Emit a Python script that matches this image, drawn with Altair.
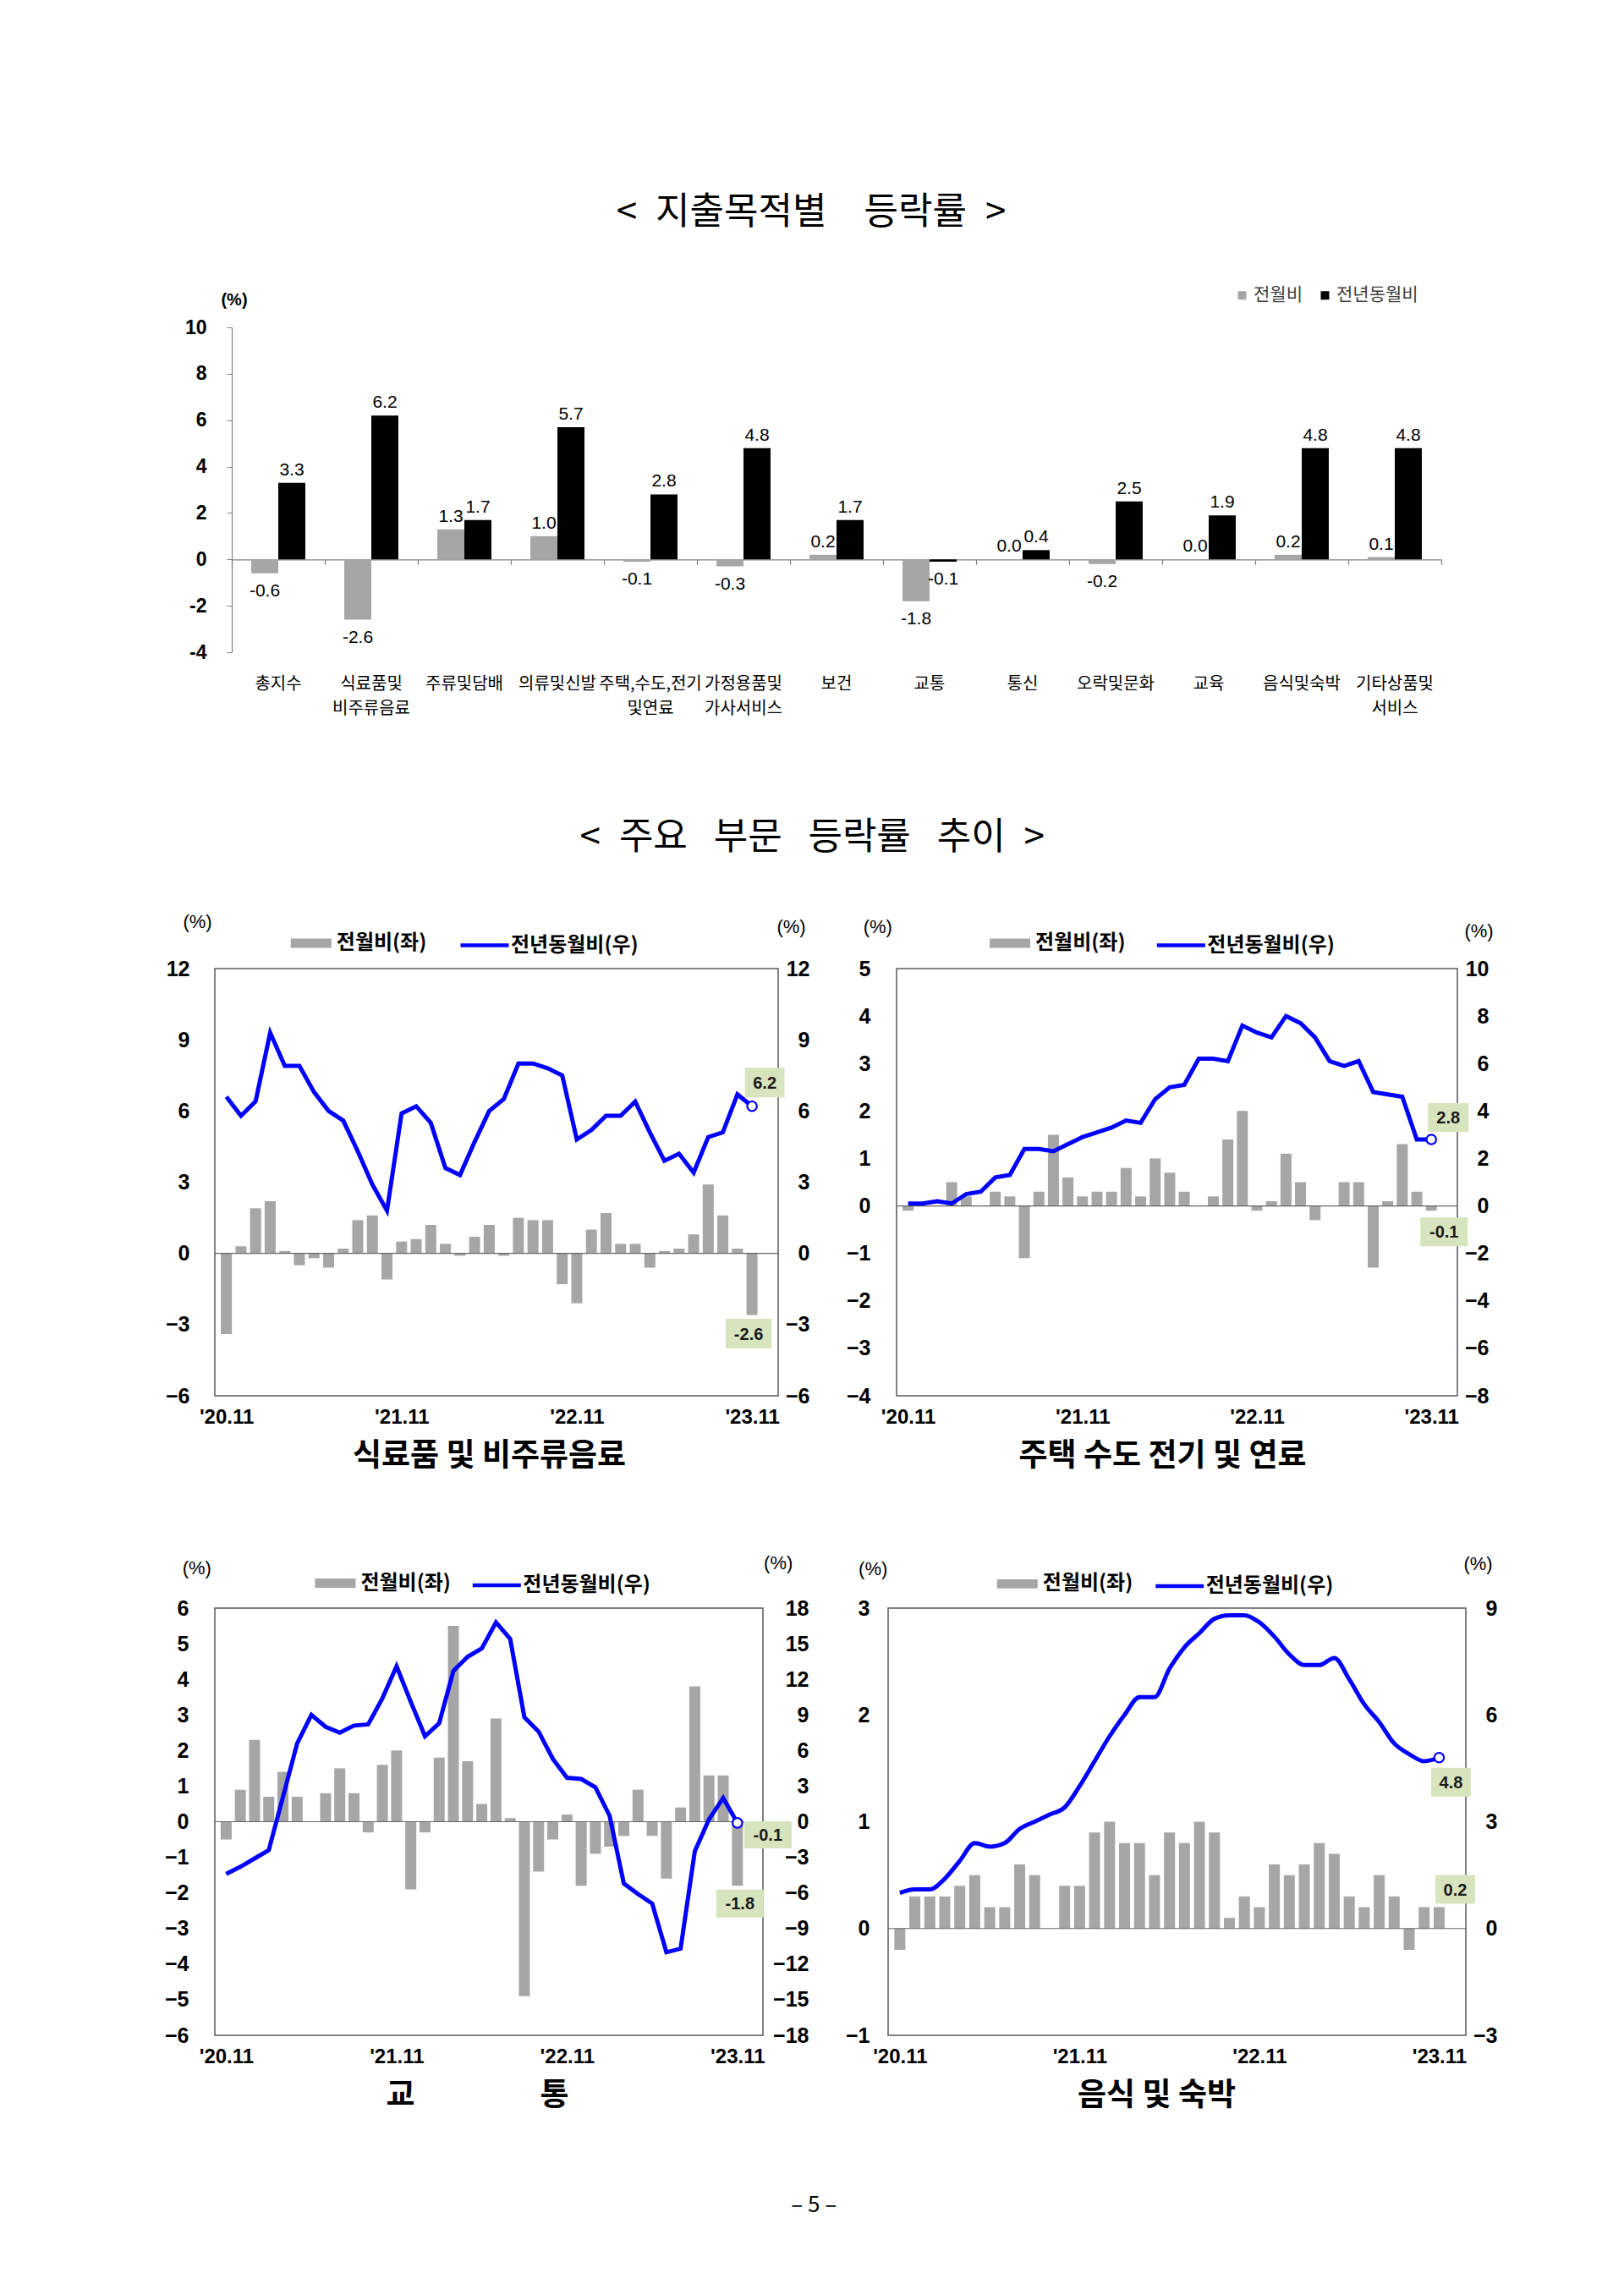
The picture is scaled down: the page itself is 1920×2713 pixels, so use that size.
import json
import altair as alt
import pandas as pd

# ---------------------------------------------------------------- data
CATEGORIES = ["총지수", "식료품및|비주류음료", "주류및담배", "의류및신발", "주택,수도,전기|및연료",
              "가정용품및|가사서비스", "보건", "교통", "통신", "오락및문화", "교육",
              "음식및숙박", "기타상품및|서비스"]
SERIES = ["전월비", "전년동월비"]
TOP_MOM = [-0.6, -2.6, 1.3, 1.0, -0.1, -0.3, 0.2, -1.8, 0.0, -0.2, 0.0, 0.2, 0.1]
TOP_YOY = [3.3, 6.2, 1.7, 5.7, 2.8, 4.8, 1.7, -0.1, 0.4, 2.5, 1.9, 4.8, 4.8]

MONTHS = []
_y, _m = 2020, 11
for _ in range(37):
    MONTHS.append(f"{_y % 100:02d}.{_m:02d}")
    _m += 1
    if _m > 12:
        _y, _m = _y + 1, 1
TICK_IDX = [0, 12, 24, 36]
TICK_LABELS = ["'20.11", "'21.11", "'22.11", "'23.11"]
LEGEND_BAR = "전월비(좌)"
LEGEND_LINE = "전년동월비(우)"

FOOD_MOM = [-3.4, 0.3, 1.9, 2.2, 0.1, -0.5, -0.2, -0.6, 0.2, 1.4, 1.6, -1.1, 0.5, 0.6, 1.2, 0.4,
            -0.1, 0.7, 1.2, -0.1, 1.5, 1.4, 1.4, -1.3, -2.1, 1.0, 1.7, 0.4, 0.4, -0.6, 0.1, 0.2,
            0.8, 2.9, 1.6, 0.2, -2.6]
FOOD_YOY = [6.6, 5.8, 6.4, 9.3, 7.9, 7.9, 6.8, 6.0, 5.6, 4.3, 2.9, 1.8, 5.9, 6.2, 5.5, 3.6,
            3.3, 4.7, 6.0, 6.5, 8.0, 8.0, 7.8, 7.5, 4.8, 5.2, 5.8, 5.8, 6.4, 5.1, 3.9, 4.2,
            3.4, 4.9, 5.1, 6.7, 6.2]
HOUSING_MOM = [-0.1, 0.0, 0.0, 0.5, 0.2, 0.0, 0.3, 0.2, -1.1, 0.3, 1.5, 0.6, 0.2, 0.3, 0.3, 0.8,
               0.2, 1.0, 0.7, 0.3, 0.0, 0.2, 1.4, 2.0, -0.1, 0.1, 1.1, 0.5, -0.3, 0.0, 0.5, 0.5,
               -1.3, 0.1, 1.3, 0.3, -0.1]
HOUSING_YOY = [0.1, 0.1, 0.2, 0.1, 0.5, 0.6, 1.2, 1.3, 2.4, 2.4, 2.3, 2.6, 2.9, 3.1, 3.3, 3.6,
               3.5, 4.5, 5.0, 5.1, 6.2, 6.2, 6.1, 7.6, 7.3, 7.1, 8.0, 7.7, 7.1, 6.1, 5.9, 6.1,
               4.8, 4.7, 4.6, 2.8, 2.8]
TRANSPORT_MOM = [-0.5, 0.9, 2.3, 0.7, 1.4, 0.7, 0.0, 0.8, 1.5, 0.8, -0.3, 1.6, 2.0, -1.9, -0.3, 1.8,
                 5.5, 1.7, 0.5, 2.9, 0.1, -4.9, -1.4, -0.5, 0.2, -1.8, -0.9, -0.7, -0.4, 0.9, -0.4,
                 -1.6, 0.4, 3.8, 1.3, 1.3, -1.8]
TRANSPORT_YOY = [-4.4, -3.8, -3.1, -2.4, 2.1, 6.6, 9.0, 8.0, 7.5, 8.1, 8.2, 10.4, 13.1, 10.1, 7.2,
                 8.3, 12.7, 13.9, 14.6, 16.8, 15.4, 8.8, 7.6, 5.3, 3.7, 3.6, 2.9, 0.5, -5.2, -6.1,
                 -6.9, -11.0, -10.7, -2.5, 0.2, 2.0, -0.1]
RESTAURANT_MOM = [-0.2, 0.3, 0.3, 0.3, 0.4, 0.5, 0.2, 0.2, 0.6, 0.5, 0.0, 0.4, 0.4, 0.9, 1.0, 0.8,
                  0.8, 0.5, 0.9, 0.8, 1.0, 0.9, 0.1, 0.3, 0.2, 0.6, 0.5, 0.6, 0.8, 0.7, 0.3, 0.2,
                  0.5, 0.3, -0.2, 0.2, 0.2]
RESTAURANT_YOY = [1.0, 1.1, 1.1, 1.4, 1.9, 2.4, 2.3, 2.4, 2.8, 3.0, 3.2, 3.4, 4.0, 4.7, 5.4, 6.0,
                  6.5, 6.5, 7.3, 7.9, 8.3, 8.7, 8.8, 8.8, 8.6, 8.2, 7.7, 7.4, 7.4, 7.6, 7.0, 6.3,
                  5.8, 5.2, 4.9, 4.7, 4.8]

PANEL_TITLES = ["식료품 및 비주류음료", "주택 수도 전기 및 연료",
                "교\u3000\u3000\u3000\u3000통", "음식 및 숙박"]
TITLE1 = "<\u2002지출목적별\u3000등락률\u2002>"
TITLE2 = "<\u2002주요\u2002\u2009부문\u2002\u2009등락률\u2002\u2009추이\u2002>"
PAGE_NO = "–  5  –"

# ---------------------------------------------------------------- style
KFONT = "Noto Sans CJK KR"
NFONT = "Liberation Sans"
GRAY = "#a6a6a6"
BLUE = "#0000ff"
BOXFILL = "#d7e4bd"
FRAME = "#595959"
AXISGRAY = "#808080"
MINUS_EXPR = "datum.value < 0 ? '\u2212' + abs(datum.value) : '' + datum.value"
HYPHEN_EXPR = "datum.value < 0 ? '-' + abs(datum.value) : '' + datum.value"
PANEL_H = 505

# ---------------------------------------------------------------- top chart
TOP_W, TOP_H, TOP_SHIFT = 1450, 384, 20
top_df = pd.DataFrame({
    "cat": CATEGORIES * 2,
    "series": [SERIES[0]] * len(CATEGORIES) + [SERIES[1]] * len(CATEGORIES),
    "val": TOP_MOM + TOP_YOY,
})
top_df["lbl"] = top_df["val"].map(lambda v: f"{v:.1f}")

ty_dom = [-4, 10]
tx_scale = alt.Scale(domain=CATEGORIES, range=[TOP_SHIFT, TOP_W], paddingInner=0, paddingOuter=0)
ty_scale = alt.Scale(domain=ty_dom, nice=False)
toff = alt.XOffset("series:N", scale=alt.Scale(domain=SERIES, paddingInner=0, paddingOuter=0.72))
zero_off = -TOP_H * (0 - ty_dom[0]) / (ty_dom[1] - ty_dom[0])

axis_zero = alt.Axis(orient="bottom", offset=zero_off, labels=False, ticks=True, tickBand="extent",
                     tickSize=6, tickColor=AXISGRAY, tickWidth=1.2, domain=True,
                     domainColor=AXISGRAY, domainWidth=1.2, grid=False, title=None)
axis_cat = alt.Axis(orient="bottom", domain=False, ticks=False, grid=False, labelPadding=27,
                    labelExpr="split(datum.label, '|')", labelFont=KFONT, labelFontSize=20,
                    labelColor="#000000", labelLineHeight=29, labelBaseline="top",
                    labelOverlap=False, labelAngle=0, labelLimit=300, title=None)
y_axis_top = alt.Axis(orient="left", offset=-TOP_SHIFT, values=list(range(-4, 11, 2)),
                      labelExpr=HYPHEN_EXPR, labelFont=NFONT, labelFontSize=23,
                      labelFontWeight="bold", labelColor="#000000", labelPadding=24,
                      ticks=True, tickSize=6, tickColor=AXISGRAY, domain=True,
                      domainColor=AXISGRAY, domainWidth=1.2, grid=False,
                      title="(%)", titleAngle=0, titleX=2.5, titleY=-33, titleAlign="center",
                      titleBaseline="middle", titleFont=NFONT, titleFontSize=20,
                      titleFontWeight="bold", titleColor="#000000")

top_bars = alt.Chart(top_df).mark_bar().encode(
    x=alt.X("cat:N", scale=tx_scale, axis=axis_zero),
    xOffset=toff,
    y=alt.Y("val:Q", scale=ty_scale, axis=y_axis_top),
    fill=alt.Fill("series:N", scale=alt.Scale(domain=SERIES, range=[GRAY, "#000000"]),
                  legend=alt.Legend(title=None, orient="none", legendX=1204, legendY=-48.5,
                                    direction="horizontal", symbolType="square", symbolSize=100,
                                    symbolStrokeWidth=0, labelFont=KFONT, labelFontSize=21,
                                    labelColor="#404040", labelOffset=3, columnPadding=16,
                                    labelLimit=300)),
)
top_pos = alt.Chart(top_df).transform_filter("datum.val >= 0").mark_text(
    baseline="bottom", dy=-5, font=NFONT, fontSize=21, color="#000000").encode(
    x=alt.X("cat:N", scale=tx_scale, axis=axis_cat),
    xOffset=toff,
    y=alt.Y("val:Q", scale=ty_scale),
    text="lbl:N",
)
top_neg = alt.Chart(top_df).transform_filter("datum.val < 0").mark_text(
    baseline="top", dy=10, font=NFONT, fontSize=21, color="#000000").encode(
    x=alt.X("cat:N", scale=tx_scale, axis=None),
    xOffset=toff,
    y=alt.Y("val:Q", scale=ty_scale),
    text="lbl:N",
)
top = alt.layer(top_bars, top_pos, top_neg).resolve_axis(x="independent").properties(
    width=TOP_W, height=TOP_H,
    title=alt.TitleParams(TITLE1, font=KFONT, fontSize=44, fontWeight="normal", color="#000000",
                          anchor="middle", offset=65, dx=-20),
)

# ---------------------------------------------------------------- panels
PANEL_LAYOUT = [
    dict(w=666, ldom=[-6, 12], lticks=list(range(-6, 13, 3)), rdom=[-6, 12],
         rticks=list(range(-6, 13, 3)), lpad=30, rpad=37, lt=(-21, -56), rt=(15, -50),
         lfx=101.8, lsx=288, ly=-30, title_x=324, interp="linear",
         yoy_box=(15, -28, 47, 35), mom_box=(-4, 22, 54, 35)),
    dict(w=663, ldom=[-4, 5], lticks=list(range(-4, 6, 1)), rdom=[-8, 10],
         rticks=list(range(-8, 11, 2)), lpad=31, rpad=37, lt=(-22.7, -50), rt=(25, -45),
         lfx=122, lsx=305.3, ly=-30, title_x=314, interp="linear",
         yoy_box=(20, -26, 48, 34), mom_box=(15, 25, 56, 34)),
    dict(w=648, ldom=[-6, 6], lticks=list(range(-6, 7, 1)), rdom=[-18, 18],
         rticks=list(range(-18, 19, 3)), lpad=31, rpad=54, lt=(-21.7, -47.5), rt=(17.7, -53.5),
         lfx=130.4, lsx=302.3, ly=-29.5, title_x=310, interp="linear",
         yoy_box=(36, 14, 56, 32), mom_box=(3, 21, 56, 33)),
    dict(w=683, ldom=[-1, 3], lticks=list(range(-1, 4, 1)), rdom=[-3, 9],
         rticks=list(range(-3, 10, 3)), lpad=22, rpad=37, lt=(-18.3, -46.6), rt=(14, -52.6),
         lfx=140.8, lsx=313.7, ly=-28.6, title_x=317, interp="monotone",
         yoy_box=(14, 29, 47, 34), mom_box=(19, -21, 47, 34)),
]


def label_box(data, xenc, field, lbl_field, scale, box):
    dx, dy, w, h = box
    a = w / h
    shape = f"M{-a:.3f},-1H{a:.3f}V1H{-a:.3f}Z"
    bg = alt.Chart(data).mark_point(shape=shape, filled=True, fill=BOXFILL, fillOpacity=1,
                                    opacity=1, strokeWidth=0, size=h * h,
                                    xOffset=dx, yOffset=dy).encode(
        x=xenc, y=alt.Y(f"{field}:Q", scale=scale))
    tx = alt.Chart(data).mark_text(font=NFONT, fontSize=20, fontWeight="bold", color="#1a1a1a",
                                   align="center", baseline="middle",
                                   xOffset=dx, yOffset=dy + 1).encode(
        x=xenc, y=alt.Y(f"{field}:Q", scale=scale), text=f"{lbl_field}:N")
    return [bg, tx]


def make_panel(mom, yoy, title, lay):
    n = len(mom)
    df = pd.DataFrame({"i": list(range(n)), "month": MONTHS[:n], "mom": mom, "yoy": yoy,
                       "s_bar": LEGEND_BAR, "s_line": LEGEND_LINE})
    end = df.iloc[[n - 1]].copy()
    end["mom_lbl"] = end["mom"].map(lambda v: f"{v:.1f}")
    end["yoy_lbl"] = end["yoy"].map(lambda v: f"{v:.1f}")

    xs = alt.Scale(domain=[-0.5, n + 0.5], nice=False, zero=False)
    x_axis = alt.Axis(values=TICK_IDX,
                      labelExpr=json.dumps(TICK_LABELS, ensure_ascii=False) + "[round(datum.value / 12)]",
                      labelFont=NFONT, labelFontSize=24, labelFontWeight="bold",
                      labelColor="#000000", labelPadding=13, labelFlush=False,
                      labelOverlap=False, ticks=False, domain=False, grid=False,
                      title=title, titleFont=KFONT, titleFontSize=37, titleFontWeight="bold",
                      titleColor="#000000", titlePadding=16, titleX=lay["title_x"],
                      titleAlign="center")
    X = alt.X("i:Q", scale=xs, axis=x_axis)
    Xn = alt.X("i:Q", scale=xs)
    ls = alt.Scale(domain=lay["ldom"], nice=False)
    rs = alt.Scale(domain=lay["rdom"], nice=False)
    laxis = alt.Axis(orient="left", values=lay["lticks"], labelExpr=MINUS_EXPR, labelFont=NFONT,
                     labelFontSize=25, labelFontWeight="bold", labelColor="#000000",
                     labelPadding=lay["lpad"], ticks=False, domain=False, grid=False,
                     title="(%)", titleAngle=0, titleX=lay["lt"][0], titleY=lay["lt"][1],
                     titleAlign="center", titleBaseline="middle", titleFont=NFONT,
                     titleFontSize=22, titleFontWeight="normal", titleColor="#000000")
    raxis = alt.Axis(orient="right", values=lay["rticks"], labelExpr=MINUS_EXPR, labelFont=NFONT,
                     labelFontSize=25, labelFontWeight="bold", labelColor="#000000",
                     labelAlign="right", labelPadding=lay["rpad"], ticks=False, domain=False,
                     grid=False, title="(%)", titleAngle=0, titleX=lay["rt"][0],
                     titleY=lay["rt"][1], titleAlign="center", titleBaseline="middle",
                     titleFont=NFONT, titleFontSize=22, titleFontWeight="normal",
                     titleColor="#000000")

    bars = alt.Chart(df).mark_bar(size=13).encode(
        x=X,
        y=alt.Y("mom:Q", scale=ls, axis=laxis),
        fill=alt.Fill("s_bar:N", scale=alt.Scale(domain=[LEGEND_BAR], range=[GRAY]),
                      legend=alt.Legend(title=None, orient="none", legendX=lay["lfx"],
                                        legendY=lay["ly"] - 12,
                                        symbolType="M-2.2,-0.5H2.2V0.5H-2.2Z", symbolSize=476,
                                        symbolStrokeWidth=0, labelFont=KFONT, labelFontSize=24,
                                        labelFontWeight="bold", labelColor="#000000",
                                        labelOffset=18, labelLimit=400)),
    )
    zero = alt.Chart(end).mark_rule(color="#666666", strokeWidth=1.2).encode(
        y=alt.YDatum(0, scale=ls))
    left = alt.layer(bars, zero, *label_box(end, Xn, "mom", "mom_lbl", ls, lay["mom_box"]))

    line = alt.Chart(df).mark_line(strokeWidth=5, interpolate=lay["interp"]).encode(
        x=Xn,
        y=alt.Y("yoy:Q", scale=rs, axis=raxis),
        stroke=alt.Stroke("s_line:N", scale=alt.Scale(domain=[LEGEND_LINE], range=[BLUE]),
                          legend=alt.Legend(title=None, orient="none", legendX=lay["lsx"],
                                            legendY=lay["ly"] - 28.5, symbolType="stroke",
                                            symbolSize=3249, symbolStrokeWidth=4.5,
                                            labelFont=KFONT, labelFontSize=24,
                                            labelFontWeight="bold", labelColor="#000000",
                                            labelOffset=0, labelLimit=400)),
    )
    dot = alt.Chart(end).mark_point(shape="circle", filled=True, fill="white", stroke=BLUE,
                                    strokeWidth=2.2, size=130, opacity=1).encode(
        x=Xn, y=alt.Y("yoy:Q", scale=rs))
    right = alt.layer(line, dot, *label_box(end, Xn, "yoy", "yoy_lbl", rs, lay["yoy_box"]))

    return alt.layer(left, right).resolve_scale(y="independent").properties(
        width=lay["w"], height=PANEL_H,
        view=alt.ViewBackground(stroke=FRAME, strokeWidth=1.5))


p1 = make_panel(FOOD_MOM, FOOD_YOY, PANEL_TITLES[0], PANEL_LAYOUT[0])
p2 = make_panel(HOUSING_MOM, HOUSING_YOY, PANEL_TITLES[1], PANEL_LAYOUT[1])
p3 = make_panel(TRANSPORT_MOM, TRANSPORT_YOY, PANEL_TITLES[2], PANEL_LAYOUT[2])
p4 = make_panel(RESTAURANT_MOM, RESTAURANT_YOY, PANEL_TITLES[3], PANEL_LAYOUT[3])


def indep(c):
    return c.resolve_scale(fill="independent", stroke="independent", x="independent",
                           y="independent").resolve_legend(fill="independent",
                                                           stroke="independent")


row1 = indep(alt.hconcat(p1, p2, spacing=140, bounds="flush"))
row2 = indep(alt.hconcat(p3, p4, spacing=148, bounds="flush")).properties(
    title=alt.TitleParams(PAGE_NO, orient="bottom", font=KFONT, fontSize=26, fontWeight="normal",
                          color="#000000", anchor="middle", offset=98, dx=-20))
inner = indep(alt.vconcat(row1, row2, spacing=95)).properties(
    title=alt.TitleParams(TITLE2, font=KFONT, fontSize=44, fontWeight="normal", color="#000000",
                          anchor="middle", offset=64, dx=-22))

chart = indep(alt.vconcat(top, inner, spacing=122)).properties(
    padding={"left": 185, "top": 221, "right": 10, "bottom": 10}
).configure(background="white", font=KFONT).configure_view(strokeWidth=0)

chart.save("out.html", embed_options={"renderer": "svg", "actions": False})
